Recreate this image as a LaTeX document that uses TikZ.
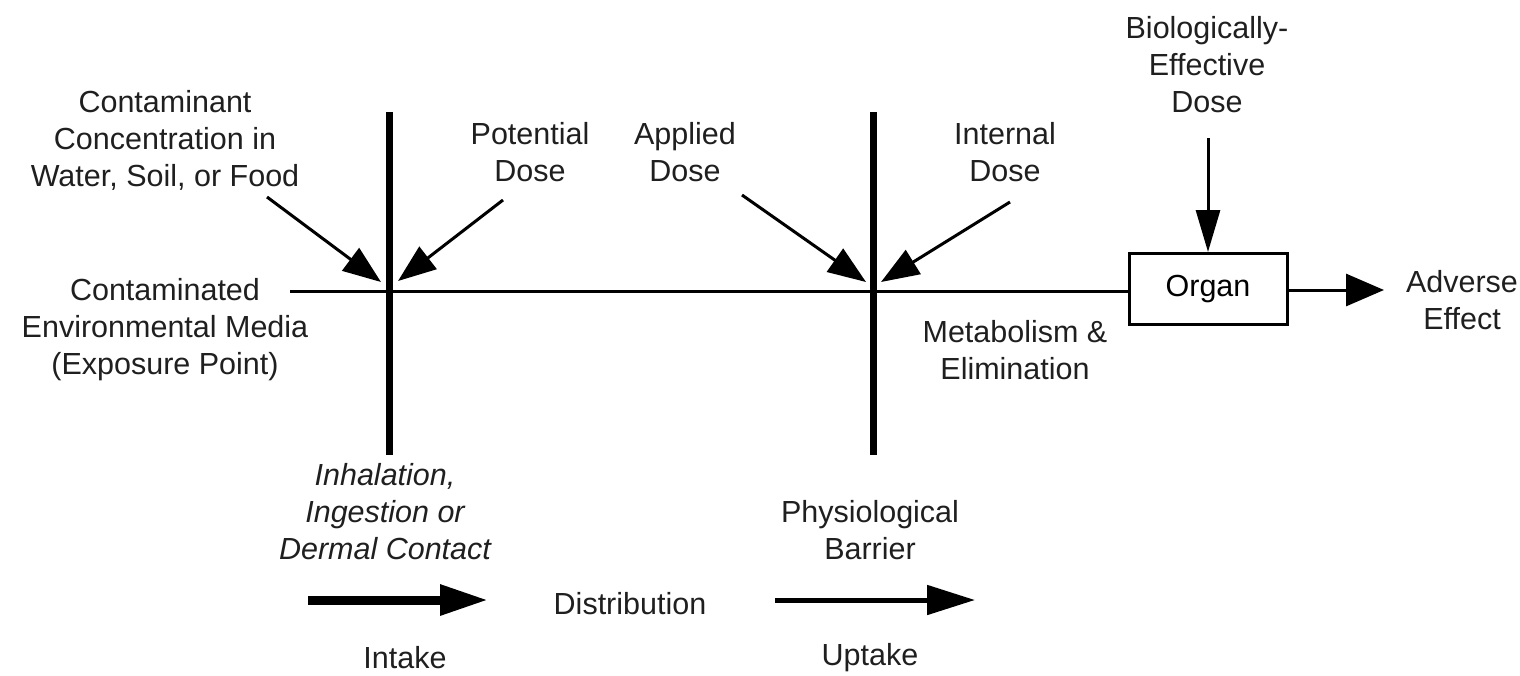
\documentclass[tikz,border=0pt]{standalone}
\usepackage{fontspec}
\setmainfont{Liberation Sans}
\usetikzlibrary{arrows.meta}
\begin{document}
\begin{tikzpicture}[x=1pt,y=-1pt,
  lbl/.style={align=center,font=\fontsize{30.5}{37}\selectfont,inner sep=0pt,text=black!88},
  bar/.style={line width=7pt},
  thin/.style={line width=3pt},
  doseArrow/.style={line width=3pt,-{Triangle[length=38pt,width=28pt]}},
  flowArrow/.style={-{Triangle[length=48pt,width=29pt]}},
  box/.style={draw,line width=3pt,minimum width=158pt,minimum height=71pt,inner sep=0pt,font=\fontsize{30.5}{37}\selectfont}]
\useasboundingbox (0,0) rectangle (1520,675);

% labels
\node[lbl] (conc) at (165,140) {Contaminant\\Concentration in\\Water, Soil, or Food};
\node[lbl] (media) at (165,330) {Contaminated\\Environmental Media\\(Exposure Point)};
\node[lbl] (potential) at (530,152) {Potential\\Dose};
\node[lbl] (applied) at (685,152) {Applied\\Dose};
\node[lbl] (internal) at (1005,152) {Internal\\Dose};
\node[lbl] (bio) at (1207,65) {Biologically-\\Effective\\Dose};
\node[lbl] (adverse) at (1462,300) {Adverse\\Effect};
\node[lbl] (metab) at (1015,350) {Metabolism \&\\Elimination};
\node[lbl,font=\fontsize{30.5}{37}\selectfont\itshape] (routes) at (385,512) {Inhalation,\\Ingestion or\\Dermal Contact};
\node[lbl] (barrier) at (870,530) {Physiological\\Barrier};
\node[lbl] (distrib) at (630,604) {Distribution};
\node[lbl] (intake) at (405,658) {Intake};
\node[lbl] (uptake) at (870,658) {Uptake};

% organ box
\node[box] (organ) at (1208,289) {Organ};

% key points
\coordinate (lineStart) at (290,291);
\coordinate (barOneTop) at (389,112);
\coordinate (barOneBot) at (389,455);
\coordinate (barTwoTop) at (873,112);
\coordinate (barTwoBot) at (873,455);
\coordinate (concFrom) at (267,197);
\coordinate (concTip) at (381,282);
\coordinate (potFrom) at (503,200);
\coordinate (potTip) at (398,281);
\coordinate (appFrom) at (742,195);
\coordinate (appTip) at (866,282);
\coordinate (intFrom) at (1010,202);
\coordinate (intTip) at (881,282);
\coordinate (bioFrom) at (1208,138);
\coordinate (effTip) at (1384,290);
\coordinate (intakeFrom) at (308,600);
\coordinate (intakeTip) at (488,600);
\coordinate (uptakeFrom) at (775,600);
\coordinate (uptakeTip) at (975,600);

% main pathway line
\draw[thin] (lineStart) -- (organ.west |- lineStart);

% exposure and absorption barriers
\draw[bar] (barOneTop) -- (barOneBot);
\draw[bar] (barTwoTop) -- (barTwoBot);

% dose arrows
\draw[doseArrow] (concFrom) -- (concTip);
\draw[doseArrow] (potFrom) -- (potTip);
\draw[doseArrow] (appFrom) -- (appTip);
\draw[doseArrow] (intFrom) -- (intTip);
\draw[line width=3pt,-{Triangle[length=42pt,width=24pt]}] (bioFrom) -- (organ.north);
\draw[line width=3pt,-{Triangle[length=38pt,width=32pt]}] (organ.east |- effTip) -- (effTip);

% process arrows
\draw[flowArrow,line width=9pt] (intakeFrom) -- (intakeTip);
\draw[flowArrow,line width=5pt] (uptakeFrom) -- (uptakeTip);
\end{tikzpicture}
\end{document}
